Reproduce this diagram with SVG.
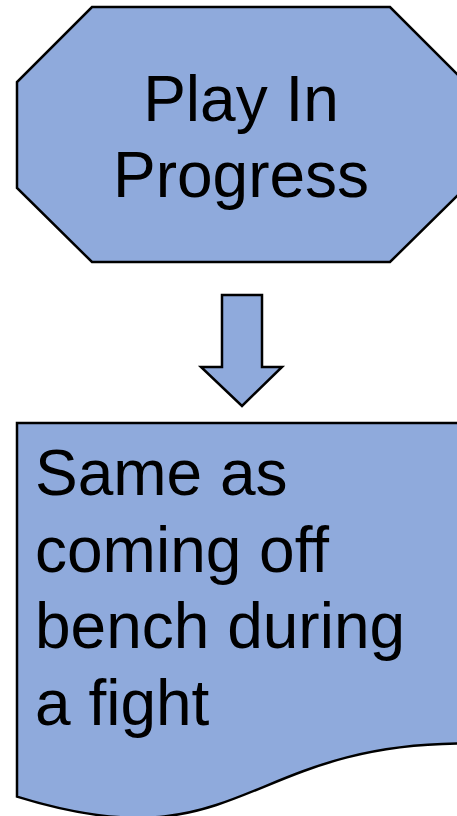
<svg xmlns="http://www.w3.org/2000/svg" width="457" height="816" viewBox="0 0 457 816">
  <style>
    .shape { fill: #8faadc; stroke: #000000; stroke-width: 2.5; stroke-linejoin: miter; }
    .label { font-family: "Liberation Sans", Arial, sans-serif; font-size: 64px; fill: #000000; }
  </style>
  <rect width="457" height="816" fill="#ffffff"/>

  <!-- Octagon: play in progress -->
  <g id="play-in-progress">
    <polygon class="shape" points="92,7 390,7 465,82 465,188 390,262 92,262 17,188 17,82"/>
    <text class="label" x="241" y="121" text-anchor="middle">Play In</text>
    <text class="label" x="241" y="197" text-anchor="middle">Progress</text>
  </g>

  <!-- Block arrow between the two nodes -->
  <g id="connectors">
    <polygon class="shape" points="222,295 262,295 262,367 282,367 242,406 201,367 222,367"/>
  </g>

  <!-- Document shape with wavy bottom -->
  <g id="same-as-bench">
    <path class="shape" d="M17,423 L465,423 L465,743.5 C241,743.5 241,866 17,796.6 Z"/>
    <text class="label" x="35" y="495">Same as</text>
    <text class="label" x="35" y="572">coming off</text>
    <text class="label" x="35" y="648">bench during</text>
    <text class="label" x="35" y="725">a fight</text>
  </g>
</svg>
